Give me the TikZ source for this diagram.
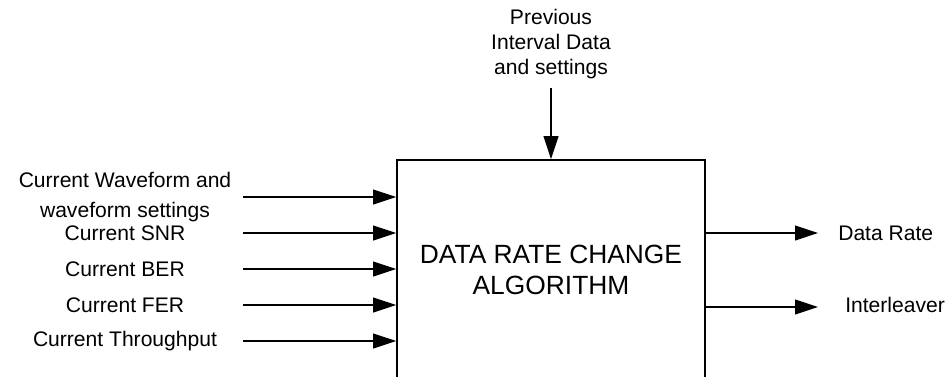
\documentclass[tikz,border=0pt]{standalone}
\usepackage{fontspec}
\setmainfont{Liberation Sans}
\usetikzlibrary{arrows.meta, positioning}
\tikzset{
  every picture/.style={line width=0.6pt},
  block/.style={draw, line width=1.1pt, minimum width=6.16cm, minimum height=4.4cm, align=center, font=\fontsize{15}{18}\selectfont},
  sig/.style={-{Triangle[length=4.6mm, width=3mm]}, line width=0.6pt},
  lbl/.style={font=\fontsize{12}{14.4}\selectfont, align=center, inner sep=1pt},
}

\begin{document}
\begin{tikzpicture}[x=0.02cm, y=-0.02cm]
  \useasboundingbox (0,0) rectangle (947,376);
  \node[block] (algo) at (551,270) {DATA RATE CHANGE\\ALGORITHM};
  % inputs on the left
  \foreach \y/\id/\txt in {197/wave/{Current Waveform and\\[3pt]waveform settings}, 233/snr/{Current SNR}, 269/ber/{Current BER}, 305/fer/{Current FER}, 341/thr/{Current Throughput}}{
    \node[lbl] (\id) at (125,\y) {\txt};
    \coordinate (\id-in) at (243,\y);
    \draw[sig] (\id-in) -- (\id-in -| algo.west);
  }
  % input from the top
  \node[lbl] (prev) at (551,44) {Previous\\Interval Data\\and settings};
  \coordinate (prev-in) at (551,88);
  \draw[sig] (prev-in) -- (algo.north);
  % outputs on the right
  \coordinate (rate-out) at (818,233);
  \coordinate (intl-out) at (818,307);
  \draw[sig] (algo.east |- rate-out) -- (rate-out);
  \draw[sig] (algo.east |- intl-out) -- (intl-out);
  \node[lbl, anchor=west] (rate) at (836,233) {Data Rate};
  \node[lbl, anchor=west] (intl) at (843,305) {Interleaver};
\end{tikzpicture}
\end{document}
